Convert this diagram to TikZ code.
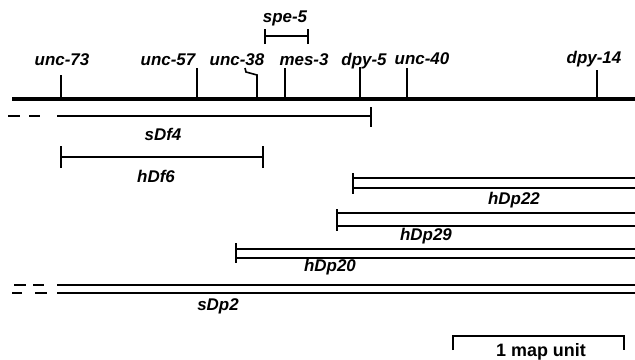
\documentclass[tikz,border=0pt]{standalone}
\usepackage{fontspec}
\setmainfont{Liberation Sans}
\begin{document}
\begin{tikzpicture}[x=1bp, y=-1bp]
      \tikzstyle{gene} = [font=\bfseries\itshape\fontsize{17}{19}\selectfont, inner sep=0pt, anchor=base]
      \tikzstyle{unit} = [font=\bfseries\fontsize{18}{20}\selectfont, inner sep=0pt, anchor=base]
      \tikzstyle{seg} = [line width=1.6bp]
      \tikzstyle{chrom} = [line width=4.5bp]
      \useasboundingbox (0,0) rectangle (635,359);
      % chromosome
      \coordinate (chrL) at (12,99);
      \coordinate (chrR) at (635,99);
      \draw[chrom] (chrL) -- (chrR);
      % genes
      \node (unc73) [gene] at (62,65) {unc-73};
      \node (unc57) [gene] at (168,65) {unc-57};
      \node (unc38) [gene] at (237,65) {unc-38};
      \node (mes3) [gene] at (304,65) {mes-3};
      \node (dpy5) [gene] at (364,65) {dpy-5};
      \node (unc40) [gene] at (422,64) {unc-40};
      \node (dpy14) [gene] at (594,63) {dpy-14};
      \node (spe5) [gene] at (285,22) {spe-5};
      \draw[seg] (61,75) -- (61,97);
      \draw[seg] (197,68) -- (197,97);
      \draw[seg] (245,68) -- (246,72) -- (257,75) -- (257,97);
      \draw[seg] (285,68) -- (285,97);
      \draw[seg] (360,67) -- (360,97);
      \draw[seg] (407,68) -- (407,97);
      \draw[seg] (597,70) -- (597,97);
      % spe-5 interval
      \coordinate (speL) at (265,36);
      \coordinate (speR) at (308,36);
      \draw[seg] (speL) -- (speR);
      \draw[seg] ([yshift=-8bp]speL) -- ([yshift=7bp]speL);
      \draw[seg] ([yshift=-8bp]speR) -- ([yshift=7bp]speR);
      % sDf4
      \coordinate (sDf4L) at (57,116);
      \coordinate (sDf4R) at (371,116);
      \draw[seg] (8,116) -- (20,116) (29,116) -- (40,116);
      \draw[seg] (sDf4L) -- (sDf4R);
      \draw[seg] (371,107) -- (371,127);
      \node (sDf4) [gene] at (163,140) {sDf4};
      % hDf6
      \coordinate (hDf6L) at (61,157);
      \coordinate (hDf6R) at (263,157);
      \draw[seg] (hDf6L) -- (hDf6R);
      \draw[seg] ([yshift=-11bp]hDf6L) -- ([yshift=11bp]hDf6L);
      \draw[seg] ([yshift=-11bp]hDf6R) -- ([yshift=11bp]hDf6R);
      \node (hDf6) [gene] at (156,182) {hDf6};
      % hDp22
      \draw[seg] (353,178) -- (635,178) (353,188) -- (635,188);
      \draw[seg] (353,173) -- (353,194);
      \node (hDp22) [gene] at (514,204) {hDp22};
      % hDp29
      \draw[seg] (337,213) -- (635,213) (337,226) -- (635,226);
      \draw[seg] (337,209) -- (337,231);
      \node (hDp29) [gene] at (426,240) {hDp29};
      % hDp20
      \draw[seg] (236,249) -- (635,249) (236,258) -- (635,258);
      \draw[seg] (236,243) -- (236,263);
      \node (hDp20) [gene] at (330,271) {hDp20};
      % sDp2
      \draw[seg] (14,285) -- (26,285) (33,285) -- (44,285);
      \draw[seg] (12,293) -- (22,293) (35,293) -- (47,293);
      \draw[seg] (57,285) -- (635,285) (57,293) -- (635,293);
      \node (sDp2) [gene] at (218,310) {sDp2};
      % scale
      \coordinate (barL) at (453,336);
      \coordinate (barR) at (624,336);
      \draw[seg] ([yshift=-14bp]barL) -- (barL) -- (barR) -- ([yshift=-14bp]barR);
      \node (mapunit) [unit] at (541,356) {1 map unit};
    \end{tikzpicture}
\end{document}
